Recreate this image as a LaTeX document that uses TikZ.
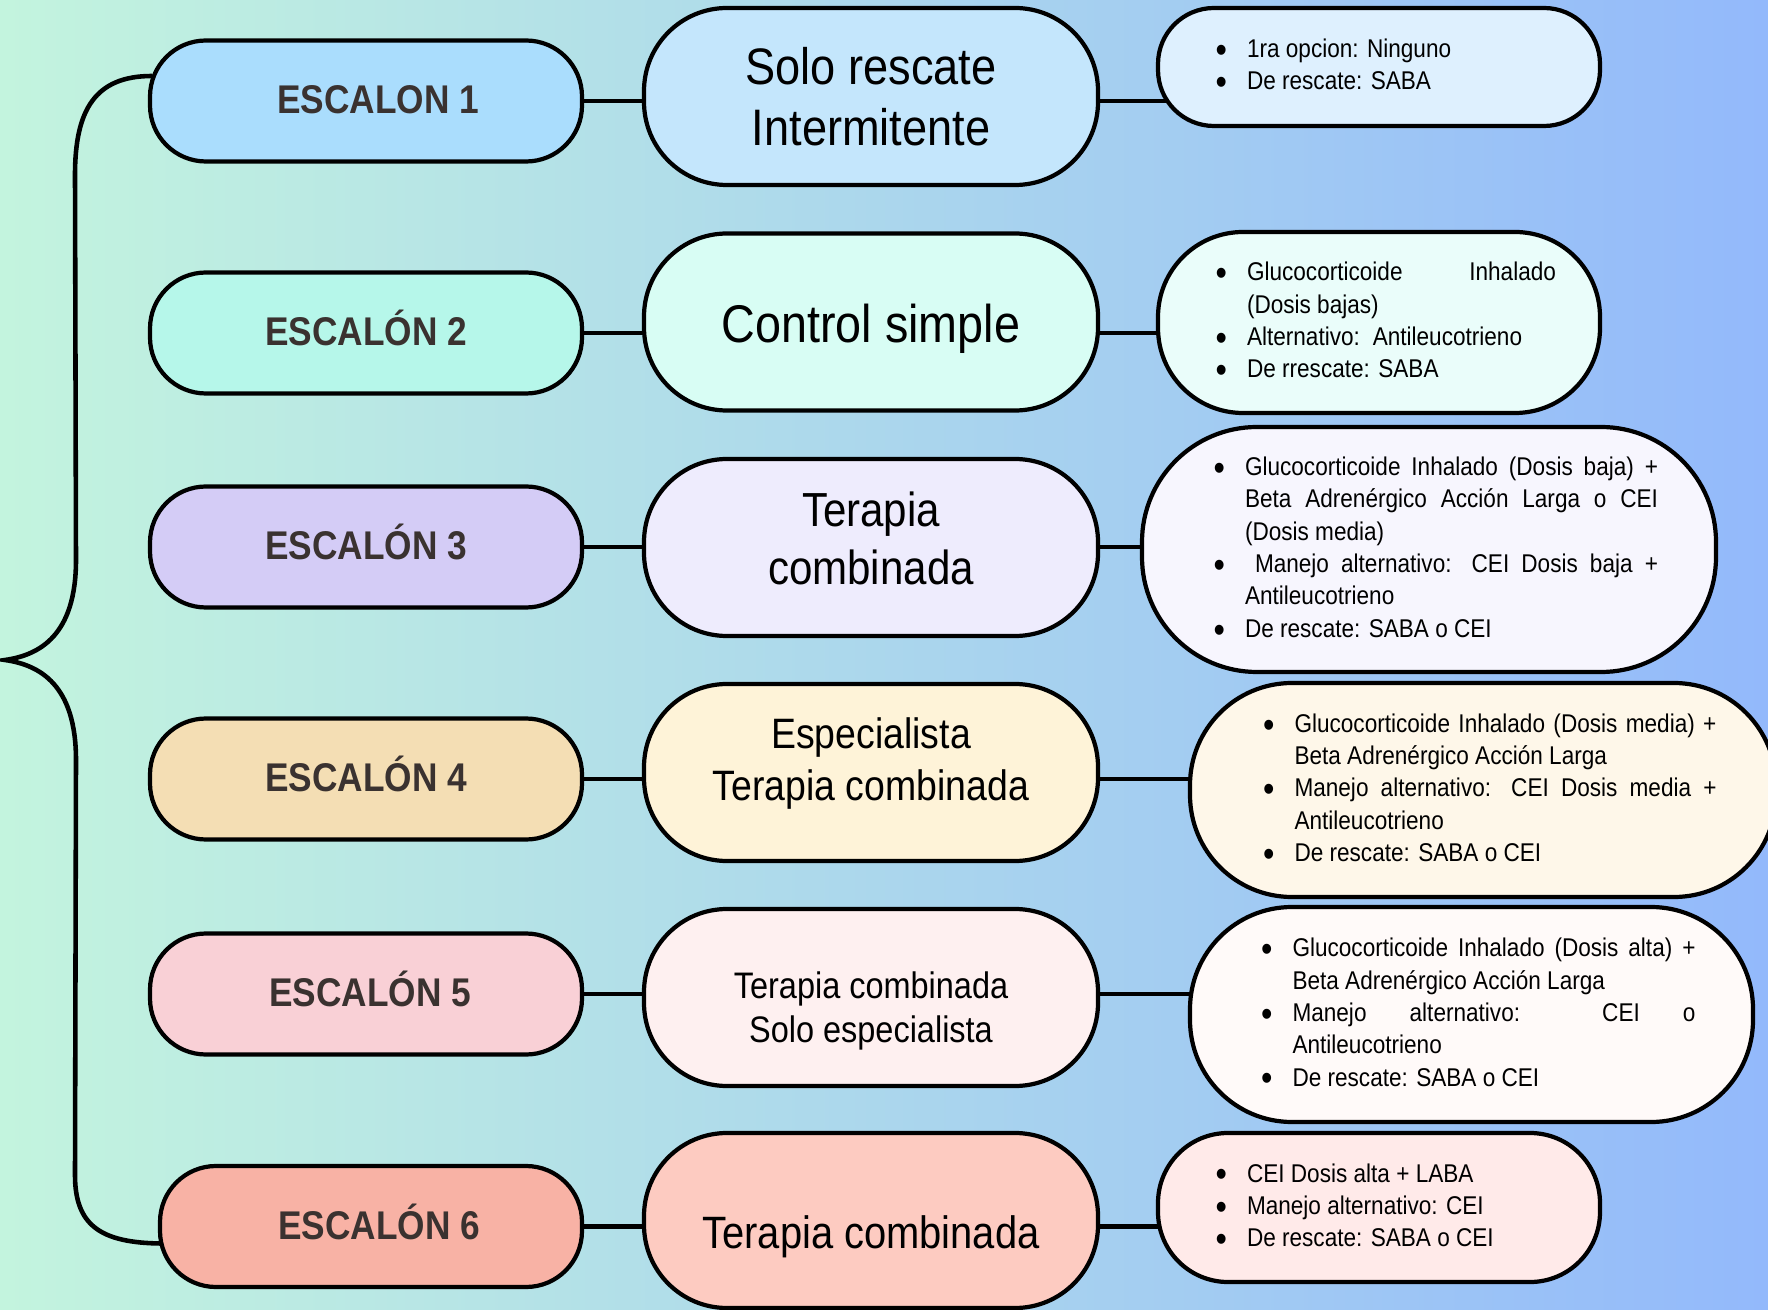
\documentclass[tikz,border=0pt]{standalone}
\usepackage{fontspec}
\setmainfont[FakeStretch=0.88]{Liberation Sans}
\usepackage{tikz}
\usetikzlibrary{calc}
\usepackage{xcolor}

\definecolor{fondoA}{RGB}{195,244,222}
\definecolor{fondoB}{RGB}{178,221,234}
\definecolor{fondoC}{RGB}{147,185,251}
\definecolor{txtEsc}{RGB}{58,50,48}
\definecolor{escA}{RGB}{170,221,253}
\definecolor{escB}{RGB}{182,247,234}
\definecolor{escC}{RGB}{212,204,246}
\definecolor{escD}{RGB}{244,222,180}
\definecolor{escE}{RGB}{249,208,214}
\definecolor{escF}{RGB}{248,178,165}
\definecolor{terA}{RGB}{196,230,252}
\definecolor{terB}{RGB}{216,253,244}
\definecolor{terC}{RGB}{238,236,253}
\definecolor{terD}{RGB}{254,243,216}
\definecolor{terE}{RGB}{254,240,240}
\definecolor{terF}{RGB}{253,203,193}
\definecolor{detA}{RGB}{222,240,254}
\definecolor{detB}{RGB}{234,253,250}
\definecolor{detC}{RGB}{247,246,254}
\definecolor{detD}{RGB}{254,247,233}
\definecolor{detE}{RGB}{255,250,249}
\definecolor{detF}{RGB}{255,234,233}

\pgfdeclarelayer{fondo}
\pgfsetlayers{fondo,main}

% bullet list for the detail boxes
\newcommand{\vineta}{\raisebox{-1.4pt}{\fontsize{10.5}{10}\selectfont\textbullet}}
\newenvironment{vinetas}{\begin{list}{\vineta}{\setlength{\leftmargin}{4.5mm}\setlength{\labelsep}{2.0mm}\setlength{\labelwidth}{2.5mm}\setlength{\itemsep}{0pt}\setlength{\parsep}{0pt}\setlength{\topsep}{0pt}\setlength{\partopsep}{0pt}}}{\end{list}}
% justified block of a given width
\newcommand{\bloque}[2]{\parbox{#1}{#2}}
% move a centred block up or down inside its box
\newcommand{\bajar}[2]{\raisebox{#1}[\height][\depth]{\begin{tabular}{@{}c@{}}#2\end{tabular}}}

\begin{document}
\begin{tikzpicture}[x=0.1mm, y=-0.1mm, border/.style={draw=black, line width=1.2pt}, line/.style={draw=black, line width=1.3pt}]
    % Define styles for steps, therapies and details
    \tikzstyle{escalon} = [rectangle, rounded corners=5.6mm, minimum width=43.2mm, minimum height=12.1mm, text height=7.3pt, text depth=0pt, font=\fontsize{11.4}{13}\selectfont\bfseries, text=txtEsc, border]
    \tikzstyle{terapia} = [rectangle, rounded corners=8.3mm, minimum width=45.4mm, minimum height=17.7mm, align=center, border]
    \tikzstyle{detalle} = [rectangle, inner sep=0pt, font=\fontsize{7.3}{9.2}\selectfont, border]

    \useasboundingbox (0,0) rectangle (1768,1310);

    % Steps on the left
    \node [escalon, fill=escA] (e1) at (366,101) {\hspace*{2.4mm}ESCALON 1};
    \node [escalon, fill=escB] (e2) at (366,333) {ESCALÓN 2};
    \node [escalon, fill=escC] (e3) at (366,547) {ESCALÓN 3};
    \node [escalon, fill=escD] (e4) at (366,779) {ESCALÓN 4};
    \node [escalon, fill=escE] (e5) at (366,994) {\hspace*{0.8mm}ESCALÓN 5};
    \node [escalon, fill=escF, minimum width=42.2mm] (e6) at (371,1226.5) {\hspace*{1.6mm}ESCALÓN 6};

    % Therapies in the middle
    \node [terapia, fill=terA, font=\fontsize{14.6}{17.5}\selectfont] (m1) at (871,96.5) {Solo rescate\\Intermitente};
    \node [terapia, fill=terB, font=\fontsize{15.1}{18}\selectfont] (m2) at (871,322) {\bajar{-0.8mm}{Control simple}};
    \node [terapia, fill=terC, font=\fontsize{13.6}{16.6}\selectfont] (m3) at (871,547.5) {\bajar{0.35mm}{Terapia\\combinada}};
    \node [terapia, fill=terD, font=\fontsize{12.1}{14.7}\selectfont] (m4) at (871,772.5) {\bajar{0.85mm}{Especialista\\Terapia combinada}};
    \node [terapia, fill=terE, font=\fontsize{10.5}{12.6}\selectfont] (m5) at (871,997.5) {\bajar{-1.4mm}{Terapia combinada\\Solo especialista}};
    \node [terapia, fill=terF, font=\fontsize{12.9}{15}\selectfont, minimum height=17.5mm] (m6) at (871,1220.5) {\bajar{-1.7mm}{Terapia combinada}};

    % Details on the right
    \node [detalle, fill=detA, rounded corners=5.6mm, minimum width=44.2mm, minimum height=11.8mm] (r1) at (1379,67) {\bloque{35.4mm}{\begin{vinetas}
        \item 1ra opcion: Ninguno
        \item De rescate: SABA
    \end{vinetas}}};
    \node [detalle, fill=detB, rounded corners=8.5mm, minimum width=44.2mm, minimum height=18.1mm] (r2) at (1379,322.5) {\bloque{35.4mm}{\begin{vinetas}
        \item Glucocorticoide Inhalado\linebreak (Dosis bajas)
        \item Alternativo:\enspace Antileucotrieno
        \item De rrescate: SABA
    \end{vinetas}}};
    \node [detalle, fill=detC, rounded corners=11.5mm, minimum width=57.4mm, minimum height=24.5mm] (r3) at (1429,549.5) {\bloque{45.8mm}{\begin{vinetas}
        \item Glucocorticoide Inhalado (Dosis baja) +\linebreak Beta Adrenérgico Acción Larga o CEI\linebreak (Dosis media)
        \item \hspace*{1mm}Manejo alternativo: CEI Dosis baja +\linebreak Antileucotrieno
        \item De rescate: SABA o CEI
    \end{vinetas}}};
    \node [detalle, fill=detD, rounded corners=10.2mm, minimum width=58.6mm, minimum height=21.4mm] (r4) at (1483,790) {\bloque{46.7mm}{\begin{vinetas}
        \item Glucocorticoide Inhalado (Dosis media) +\linebreak Beta Adrenérgico Acción Larga
        \item Manejo alternativo: CEI Dosis media +\linebreak Antileucotrieno
        \item De rescate: SABA o CEI
    \end{vinetas}}};
    \node [detalle, fill=detE, rounded corners=10.2mm, minimum width=56.3mm, minimum height=21.5mm] (r5) at (1471.5,1014.5) {\bloque{44.8mm}{\begin{vinetas}
        \item Glucocorticoide Inhalado (Dosis alta) +\linebreak Beta Adrenérgico Acción Larga
        \item Manejo alternativo: CEI o\linebreak Antileucotrieno
        \item De rescate: SABA o CEI
    \end{vinetas}}};
    \node [detalle, fill=detF, rounded corners=7mm, minimum width=44.2mm, minimum height=14.9mm] (r6) at (1379,1207.5) {\bloque{35.4mm}{\begin{vinetas}
        \item CEI Dosis alta + LABA
        \item Manejo alternativo: CEI
        \item De rescate: SABA o CEI
    \end{vinetas}}};

    \begin{pgfonlayer}{fondo}
        % Background gradient
        \shade [left color=fondoA, middle color=fondoB, right color=fondoC] (0,0) rectangle (1768,1310);

        % Draw edges behind the boxes
        \draw[line] (e1.east) -- (e1.east -| r1.center);
        \draw[line] (e2.east) -- (e2.east -| r2.center);
        \draw[line] (e3.east) -- (e3.east -| r3.center);
        \draw[line] (e4.east) -- (e4.east -| r4.center);
        \draw[line] (e5.east) -- (e5.east -| r5.center);
        \draw[line] (e6.east) -- (e6.east -| r6.center);

        % Brace joining all the steps
        \coordinate (punta) at (5,660);
        \draw[line] ($(e1.west)+(4,-25)$) .. controls (95,76) and (75,110) .. (75,175)
            -- (76,560) .. controls (76,635) and (40,655) .. (punta)
            .. controls (40,665) and (76,685) .. (76,760)
            -- (75,1175) .. controls (75,1225) and (100,1243) .. ($(e6.west)+(4,17)$);
    \end{pgfonlayer}
\end{tikzpicture}
\end{document}
